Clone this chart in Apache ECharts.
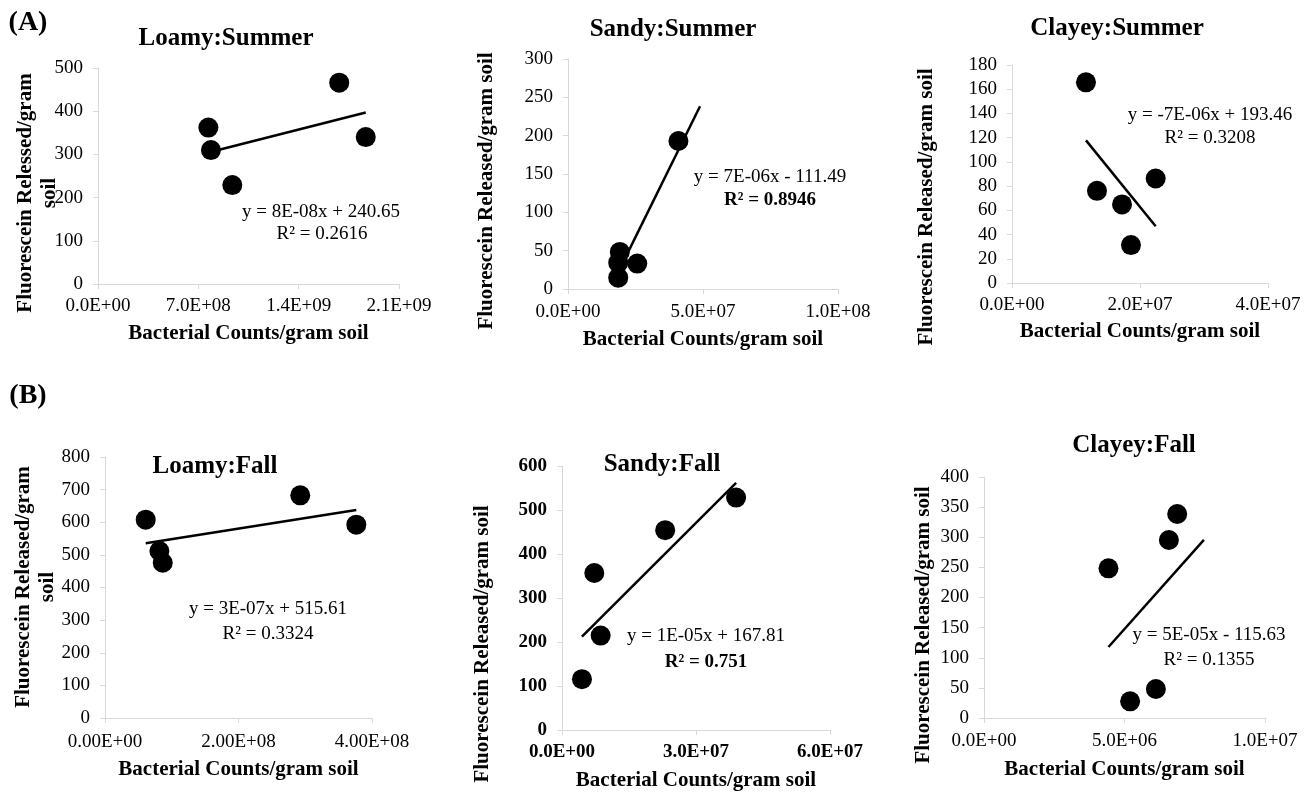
<!DOCTYPE html>
<html>
<head>
<meta charset="utf-8">
<script src="https://cdn.jsdelivr.net/npm/echarts@6/dist/echarts.min.js"></script>
<style>
  html, body { margin: 0; padding: 0; background: #fff; }
  #chart { width: 1311px; height: 792px; }
</style>
</head>
<body>
<div id="chart"></div>
<script>
// values (bacterial counts / fluorescein released)
const loamySummerX = [7.7e8, 7.88e8, 9.37e8, 1.683e9, 1.868e9];
const loamySummerY = [362, 310, 229, 466, 340];
const sandySummerX = [4.09e7, 1.92e7, 1.86e7, 1.86e7, 2.565e7];
const sandySummerY = [193, 48.4, 34.4, 14.8, 33.1];
const clayeySummerX = [1.156e7, 1.328e7, 1.719e7, 1.859e7, 2.245e7];
const clayeySummerY = [165.7, 76.1, 64.9, 31.3, 86.3];
const loamyFallX = [0.61e8, 0.815e8, 0.865e8, 2.925e8, 3.765e8];
const loamyFallY = [608, 512, 476, 682.5, 592.6];
const sandyFallX = [3.898e7, 2.31e7, 0.723e7, 0.865e7, 0.447e7];
const sandyFallY = [528.2, 454.2, 356.7, 214.6, 115.6];
const clayeyFallX = [6.876e6, 6.58e6, 4.43e6, 6.116e6, 5.2e6];
const clayeyFallY = [338.6, 295.4, 248.4, 48.1, 27.7];

const titles = ['Loamy:Summer', 'Sandy:Summer', 'Clayey:Summer', 'Loamy:Fall', 'Sandy:Fall', 'Clayey:Fall'];
const equations = ['y = 8E-08x + 240.65', 'y = 7E-06x - 111.49', 'y = -7E-06x + 193.46',
  'y = 3E-07x + 515.61', 'y = 1E-05x + 167.81', 'y = 5E-05x - 115.63'];
const rSquared = ['R² = 0.2616', 'R² = 0.8946', 'R² = 0.3208', 'R² = 0.3324', 'R² = 0.751', 'R² = 0.1355'];
const xMaxes = [2.1e9, 1e8, 4e7, 4e8, 6e7, 1e7];
const xSteps = [7e8, 5e7, 2e7, 2e8, 3e7, 5e6];
const yMaxes = [500, 300, 180, 800, 600, 400];
const ySteps = [100, 50, 20, 100, 100, 50];
const trendForward = [0, 8e6, 0, 0, 0, 9.5e5];

const FONT = '"Liberation Serif", "Times New Roman", serif';
const AXIS_GREY = '#d9d9d9';

// per-panel layout
const layout = [
  { grid: { left: 98, top: 68, width: 301, height: 216 }, title: [226, 39], eq: [321, 212], r2: [322, 234],
    yName: 'Fluorescein Relessed/gram\nsoil', yNamePos: [38, 193], xDec: 1, nameGap: 39, labelMargin: 13 },
  { grid: { left: 568, top: 59, width: 270, height: 230 }, title: [673, 30], eq: [770, 177], r2: [770, 200],
    yName: 'Fluorescein Released/gram soil', yNamePos: [487, 191], xDec: 1, nameGap: 40, labelMargin: 14, r2Bold: true },
  { grid: { left: 1012, top: 65, width: 256, height: 218 }, title: [1117, 29], eq: [1210, 115], r2: [1210, 138],
    yName: 'Fluorescein Released/gram soil', yNamePos: [927, 207], xDec: 1, nameGap: 38, labelMargin: 13 },
  { grid: { left: 105, top: 457, width: 267, height: 261 }, title: [215, 467], eq: [268, 609], r2: [268, 634],
    yName: 'Fluorescein Released/gram\nsoil', yNamePos: [36, 587], xDec: 2, nameGap: 41, labelMargin: 15 },
  { grid: { left: 562, top: 466, width: 268, height: 265 }, title: [662, 465], eq: [706, 636], r2: [706, 662],
    yName: 'Fluorescein Released/gram soil', yNamePos: [483, 644], xDec: 1, nameGap: 40, labelMargin: 13,
    r2Bold: true, boldTicks: true },
  { grid: { left: 984, top: 477, width: 281, height: 241 }, title: [1134, 446], eq: [1209, 635], r2: [1209, 660],
    yName: 'Fluorescein Released/gram soil', yNamePos: [924, 625], xDec: 1, nameGap: 41, labelMargin: 14 }
];

const xs = [loamySummerX, sandySummerX, clayeySummerX, loamyFallX, sandyFallX, clayeyFallX];
const ys = [loamySummerY, sandySummerY, clayeySummerY, loamyFallY, sandyFallY, clayeyFallY];

function sci(d) {
  return function (v) {
    const parts = Number(v).toExponential(d).split('e');
    const e = parseInt(parts[1], 10);
    return parts[0] + 'E' + (e < 0 ? '-' : '+') + String(Math.abs(e)).padStart(2, '0');
  };
}

// ordinary least squares, like Excel's linear trendline
function fit(x, y) {
  const n = x.length;
  const mx = x.reduce((a, b) => a + b, 0) / n;
  const my = y.reduce((a, b) => a + b, 0) / n;
  let sxy = 0, sxx = 0;
  for (let i = 0; i < n; i++) {
    sxy += (x[i] - mx) * (y[i] - my);
    sxx += (x[i] - mx) * (x[i] - mx);
  }
  const slope = sxy / sxx;
  return { slope: slope, intercept: my - slope * mx };
}

function text(str, pos, size, bold, rotate) {
  return {
    type: 'text', x: pos[0], y: pos[1], rotation: rotate ? Math.PI / 2 : 0, silent: true,
    style: {
      text: str, fill: '#000', fontFamily: FONT, fontSize: size,
      fontWeight: bold ? 'bold' : 'normal', textAlign: 'center', textVerticalAlign: 'middle',
      lineHeight: 24
    }
  };
}

const grids = [], xAxes = [], yAxes = [], series = [];
const graphics = [text('(A)', [28, 23], 28, true), text('(B)', [28, 396], 28, true)];

layout.forEach(function (p, i) {
  grids.push(p.grid);
  const tickWeight = p.boldTicks ? 'bold' : 'normal';
  xAxes.push({
    gridIndex: i, type: 'value', min: 0, max: xMaxes[i], interval: xSteps[i],
    name: 'Bacterial Counts/gram soil', nameLocation: 'middle', nameGap: p.nameGap,
    nameTextStyle: { fontFamily: FONT, fontSize: 21, fontWeight: 'bold', color: '#000' },
    axisLine: { show: true, onZero: false, lineStyle: { color: AXIS_GREY, width: 1 } },
    axisTick: { show: true, length: 5, lineStyle: { color: AXIS_GREY } },
    splitLine: { show: false },
    axisLabel: { formatter: sci(p.xDec), fontFamily: FONT, fontSize: 19, color: '#000',
      fontWeight: tickWeight, margin: p.labelMargin }
  });
  yAxes.push({
    gridIndex: i, type: 'value', min: 0, max: yMaxes[i], interval: ySteps[i],
    axisLine: { show: true, lineStyle: { color: AXIS_GREY, width: 1 } },
    axisTick: { show: true, length: 5, lineStyle: { color: AXIS_GREY } },
    splitLine: { show: false },
    axisLabel: { fontFamily: FONT, fontSize: 19, color: '#000', fontWeight: tickWeight, margin: 15 }
  });

  const x = xs[i], y = ys[i];
  series.push({
    type: 'scatter', xAxisIndex: i, yAxisIndex: i,
    data: x.map((v, k) => [v, y[k]]),
    symbolSize: 20, itemStyle: { color: '#000', opacity: 1 }
  });
  const f = fit(x, y);
  const x0 = Math.min.apply(null, x);
  const x1 = Math.max.apply(null, x) + trendForward[i];
  series.push({
    type: 'line', xAxisIndex: i, yAxisIndex: i, silent: true, showSymbol: false,
    data: [[x0, f.intercept + f.slope * x0], [x1, f.intercept + f.slope * x1]],
    lineStyle: { color: '#000', width: 2.5 }
  });

  graphics.push(text(titles[i], p.title, 25, true));
  graphics.push(text(equations[i], p.eq, 19, false));
  graphics.push(text(rSquared[i], p.r2, 19, !!p.r2Bold));
  graphics.push(text(p.yName, p.yNamePos, 21, true, true));
});

const chart = echarts.init(document.getElementById('chart'));
chart.setOption({
  animation: false,
  backgroundColor: '#fff',
  grid: grids,
  xAxis: xAxes,
  yAxis: yAxes,
  series: series,
  graphic: graphics
});
</script>
</body>
</html>
